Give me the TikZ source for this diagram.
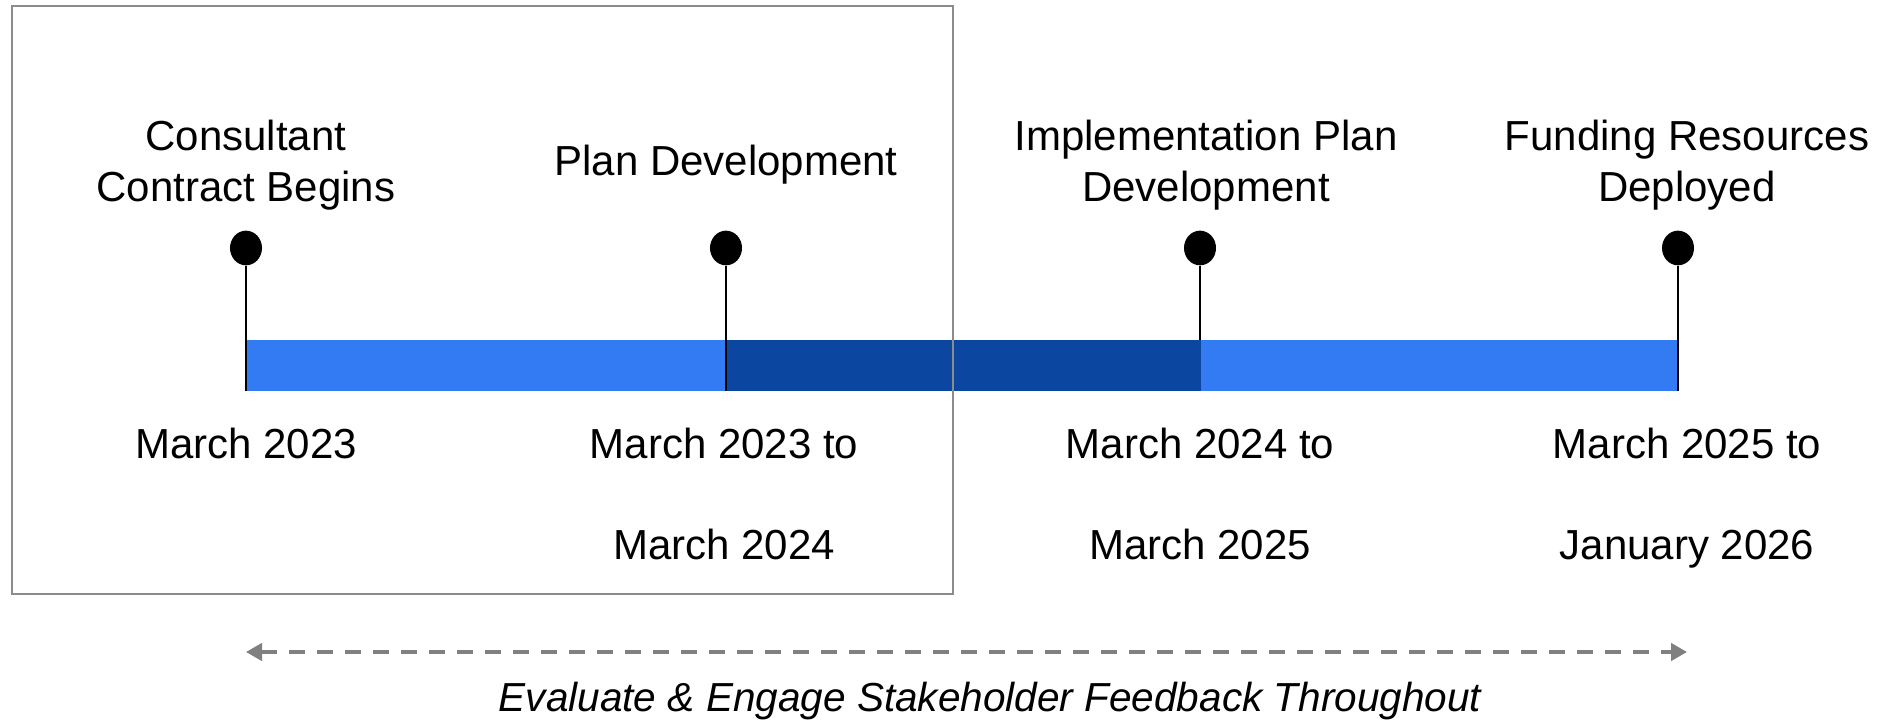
\documentclass[tikz,border=0pt]{standalone}
\usepackage{fontspec}
\setmainfont{Liberation Sans}
\usetikzlibrary{arrows.meta,shapes.geometric}
\definecolor{barblue}{RGB}{50,123,242}
\definecolor{bardark}{RGB}{11,71,161}
\definecolor{boxgray}{RGB}{140,140,140}
\definecolor{arrgray}{RGB}{128,128,128}
\tikzset{
  toplbl/.style={anchor=center,inner sep=0pt,align=center,font=\fontsize{31.5}{37.8}\selectfont},
  datelbl/.style={anchor=north,inner sep=0pt,align=center,font=\fontsize{31.5}{75.6}\selectfont},
  pinhead/.style={ellipse,fill=black,inner sep=0pt,minimum width=24pt,minimum height=26pt},
  stem/.style={line width=1.1pt,black}
}
\begin{document}
\begin{tikzpicture}[x=0.75pt,y=0.75pt,yscale=-1,xscale=1]
\useasboundingbox (0,0) rectangle (1881,720);

%Shape: Rectangle [bar, light]
\fill [barblue] (246,340) rectangle (1678,391) ;
%Shape: Rectangle [bar, dark]
\fill [bardark] (726,340) rectangle (1201,391) ;

%Shape: Ellipse [pins]
\node [pinhead] (d1) at (246,248) {};
\node [pinhead] (d2) at (726,248) {};
\node [pinhead] (d3) at (1200,248) {};
\node [pinhead] (d4) at (1678,248) {};
\coordinate (b1) at (246,391);
\coordinate (b2) at (726,391);
\coordinate (b3) at (1200,340);
\coordinate (b4) at (1678,391);
%Straight Lines [stems]
\draw [stem] (d1.south) -- (b1) ;
\draw [stem] (d2.south) -- (b2) ;
\draw [stem] (d3.south) -- (b3) ;
\draw [stem] (d4.south) -- (b4) ;

%Shape: Rectangle [frame]
\draw [boxgray,line width=1.5pt] (12,6) rectangle (953,594) ;

% Text Node
\node [toplbl] (t1) at (246,165) {Consultant\\Contract Begins};
% Text Node
\node [toplbl] (t2) at (726,165) {Plan Development};
% Text Node
\node [toplbl] (t3) at (1206,165) {Implementation Plan\\Development};
% Text Node
\node [toplbl] (t4) at (1687,165) {Funding Resources\\Deployed};

% Text Node
\node [datelbl] (m1) at (246,428) {March 2023};
% Text Node
\node [datelbl] (m2) at (724,428) {March 2023 to\\March 2024};
% Text Node
\node [datelbl] (m3) at (1200,428) {March 2024 to\\March 2025};
% Text Node
\node [datelbl] (m4) at (1687,428) {March 2025 to\\January 2026};

%Straight Lines [feedback arrow]
\coordinate (fa) at (246,652);
\coordinate (fb) at (1687,652);
\draw [arrgray,line width=2.6pt,dash pattern={on 12pt off 9pt},{Triangle[length=12pt,width=13pt]}-{Triangle[length=12pt,width=13pt]}] (fa) -- (fb) ;
% Text Node
\node [anchor=base,inner sep=0pt,font=\fontsize{30.4}{36.5}\selectfont\itshape] (fb1) at (990,711) {Evaluate \& Engage Stakeholder Feedback Throughout};

\end{tikzpicture}
\end{document}
